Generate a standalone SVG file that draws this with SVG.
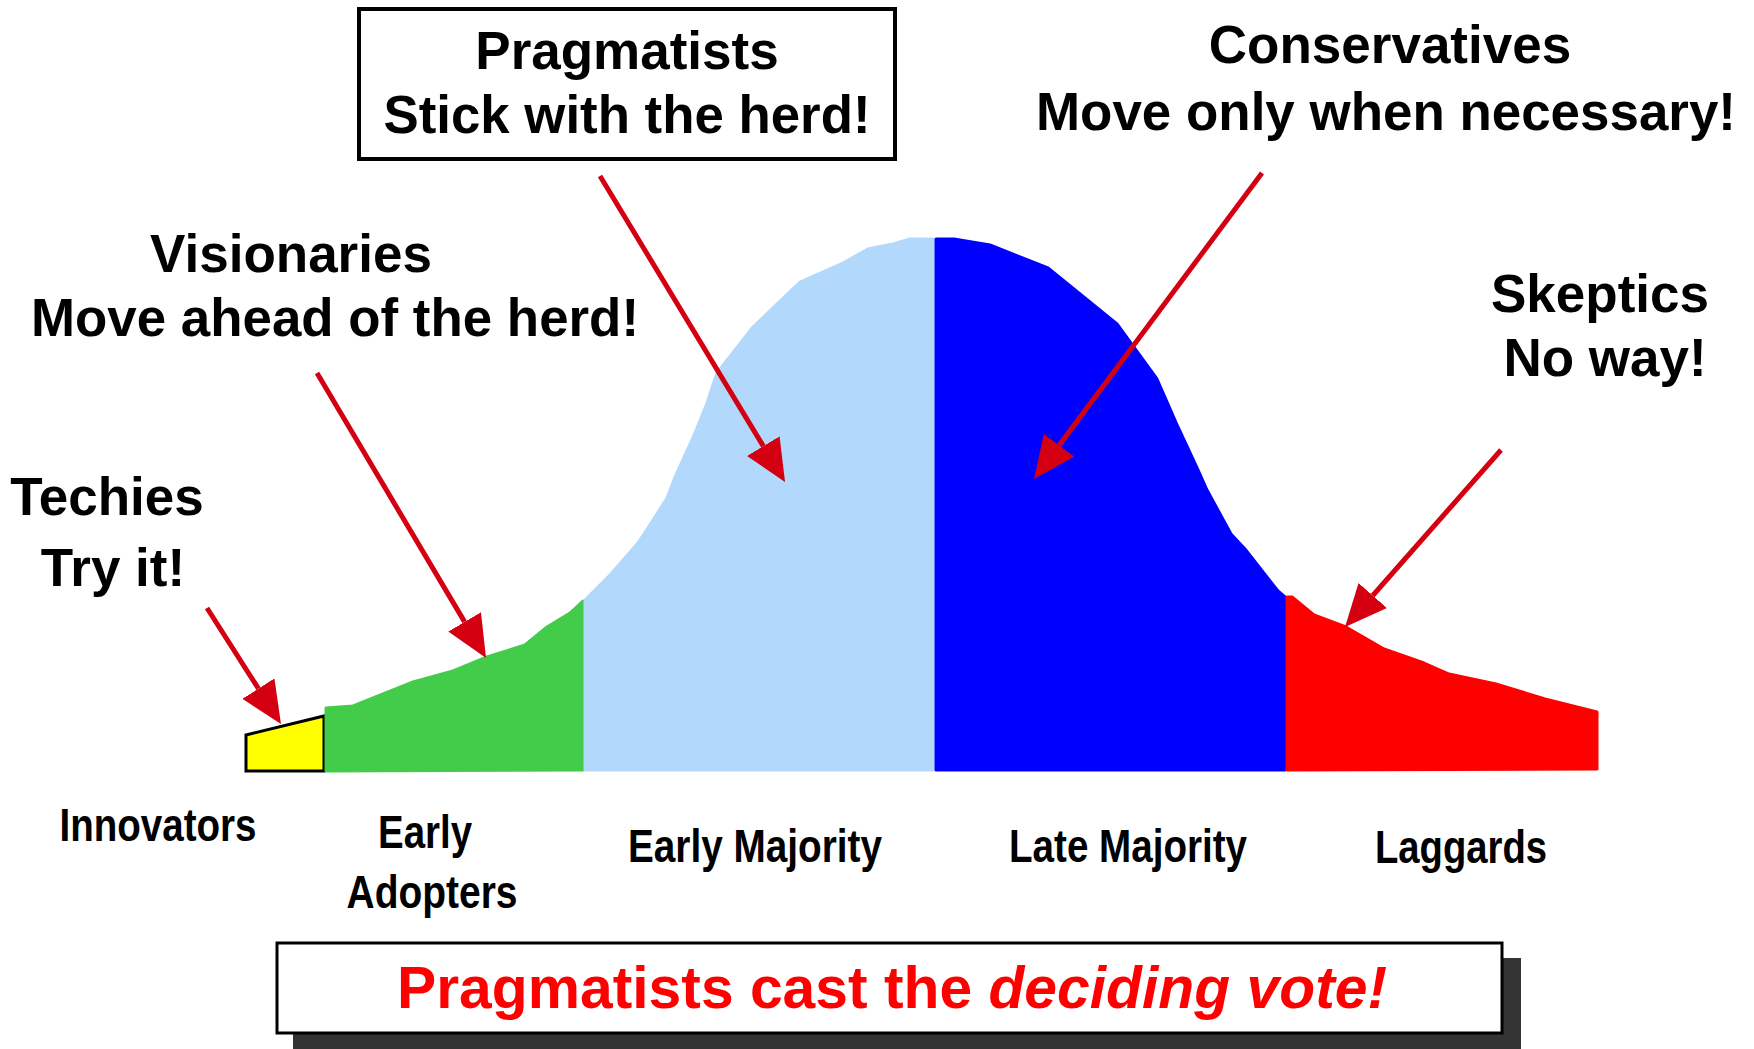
<svg xmlns="http://www.w3.org/2000/svg" width="1754" height="1049" viewBox="0 0 1754 1049">
<style>
.t{font-family:"Liberation Sans",Arial,sans-serif;font-weight:bold;fill:#000;text-anchor:middle}
.h{font-size:53px}
.b{font-size:46px}
.seg{stroke-linejoin:round;stroke-width:3}
.arr{stroke:#D40012;stroke-width:5;fill:none}
</style>
<defs>
<marker id="ah" markerUnits="userSpaceOnUse" markerWidth="44" markerHeight="40" refX="0" refY="19" orient="auto">
<path d="M0,0 L42,19 L0,38 Z" fill="#D40012"/>
</marker>
</defs>
<rect width="1754" height="1049" fill="#fff"/>

<g id="innovators-segment">
<polygon points="246,735 324,716 324,771 246,771" fill="#FFFF00" stroke="#000" stroke-width="3" stroke-linejoin="miter"/>
</g>
<g id="early-adopters-segment">
<polygon class="seg" points="326,771 326,708 353,706 413,682 453,671 487,657 525,645 547,627 570,613 583,601 583,770" fill="#43CC4A" stroke="#43CC4A"/>
</g>
<g id="early-majority-segment">
<polygon class="seg" points="585,770 585,600 610,575 638,543 653,520 667,498 675,477 695,433 707,403 717,373 753,327 800,282 843,263 868,249 893,244 910,239 933,239 933,770" fill="#B2D8FB" stroke="#B2D8FB"/>
</g>
<g id="late-majority-segment">
<polygon class="seg" points="936,770 936,239 954,239 990,245 1048,268 1117,324 1157,379 1178,427 1198,470 1207,490 1231,534 1245,549 1278,591 1285,597 1285,770" fill="#0000FF" stroke="#0000FF"/>
</g>
<g id="laggards-segment">
<polygon class="seg" points="1287,770 1287,597 1292,597 1314,615 1346,627 1384,649 1424,663 1449,674 1496,684 1545,699 1597,712 1597,769" fill="#FF0000" stroke="#FF0000"/>
</g>

<g id="pragmatists-label">
<rect x="359" y="9" width="536" height="150" fill="#fff" stroke="#000" stroke-width="4"/>
<text class="t h" x="627" y="69">Pragmatists</text>
<text class="t h" x="627" y="133" textLength="487" lengthAdjust="spacingAndGlyphs">Stick with the herd!</text>
</g>
<g id="conservatives-label">
<text class="t h" x="1390" y="63">Conservatives</text>
<text class="t h" x="1386" y="130" textLength="700" lengthAdjust="spacingAndGlyphs">Move only when necessary!</text>
</g>
<g id="visionaries-label">
<text class="t h" x="291" y="272">Visionaries</text>
<text class="t h" x="335" y="336" textLength="608" lengthAdjust="spacingAndGlyphs">Move ahead of the herd!</text>
</g>
<g id="techies-label">
<text class="t h" x="107" y="515">Techies</text>
<text class="t h" x="113" y="586">Try it!</text>
</g>
<g id="skeptics-label">
<text class="t h" x="1600" y="312">Skeptics</text>
<text class="t h" x="1605" y="376">No way!</text>
</g>

<g id="innovators-label"><text class="t b" x="158" y="841" textLength="197" lengthAdjust="spacingAndGlyphs">Innovators</text></g>
<g id="early-adopters-label">
<text class="t b" x="425" y="848" textLength="94" lengthAdjust="spacingAndGlyphs">Early</text>
<text class="t b" x="432" y="908" textLength="171" lengthAdjust="spacingAndGlyphs">Adopters</text>
</g>
<g id="early-majority-label"><text class="t b" x="755" y="862" textLength="254" lengthAdjust="spacingAndGlyphs">Early Majority</text></g>
<g id="late-majority-label"><text class="t b" x="1128" y="862" textLength="238" lengthAdjust="spacingAndGlyphs">Late Majority</text></g>
<g id="laggards-label"><text class="t b" x="1461" y="863" textLength="172" lengthAdjust="spacingAndGlyphs">Laggards</text></g>

<g id="conclusion">
<rect x="293" y="958" width="1228" height="95" fill="#333"/>
<rect x="277" y="943" width="1225" height="90" fill="#fff" stroke="#000" stroke-width="3"/>
<text class="t" x="892" y="1008" font-size="59" style="fill:#FF0000" textLength="990" lengthAdjust="spacingAndGlyphs">Pragmatists cast the <tspan font-style="italic">deciding vote!</tspan></text>
</g>

<g id="connectors">
<line class="arr" x1="207" y1="608" x2="258.4" y2="688.6" marker-end="url(#ah)"/>
<line class="arr" x1="317" y1="373" x2="464.6" y2="621.9" marker-end="url(#ah)"/>
<line class="arr" x1="600" y1="176" x2="763.3" y2="446.1" marker-end="url(#ah)"/>
<line class="arr" x1="1262" y1="173" x2="1059.1" y2="445.3" marker-end="url(#ah)"/>
<line class="arr" x1="1501" y1="450" x2="1372.8" y2="595.5" marker-end="url(#ah)"/>
</g>
</svg>
